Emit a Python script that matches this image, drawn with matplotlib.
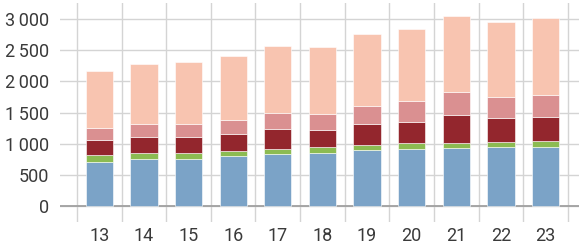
import numpy as np
import matplotlib.pyplot as plt
from matplotlib.ticker import FixedLocator

plt.rcParams['font.family'] = ['Roboto', 'DejaVu Sans']

years = ['13', '14', '15', '16', '17', '18', '19', '20', '21', '22', '23']
blue = [705, 747, 753, 796, 839, 855, 892, 919, 925, 952, 941]
green = [106, 97, 91, 86, 80, 86, 86, 86, 80, 80, 97]
darkred = [254, 269, 269, 269, 318, 279, 345, 350, 447, 377, 392]
pink = [182, 204, 210, 231, 263, 253, 285, 322, 376, 333, 355]
peach = [925, 963, 994, 1027, 1070, 1081, 1145, 1167, 1215, 1215, 1231]

series = [blue, green, darkred, pink, peach]
colors = ['#7ba3c7', '#8cbb52', '#93262d', '#da9091', '#f8c4b0']
yticks = [0, 500, 1000, 1500, 2000, 2500, 3000]

fig = plt.figure(figsize=(5.79, 2.46), dpi=100)
ax = fig.add_axes([60/579, 1 - 222/246, 1 - 60/579, 219/246])

x = np.arange(13, 24)
bottom = np.zeros(len(x))
for vals, c in zip(series, colors):
    ax.bar(x, vals, width=0.61, bottom=bottom, color=c, edgecolor='white',
           linewidth=0.4, zorder=3)
    bottom += np.array(vals)

ax.set_xlim(12.12, 23.75)
ax.set_ylim(-257, 3257)

ax.set_xticks(x)
ax.set_xticklabels(years)
ax.xaxis.set_minor_locator(FixedLocator(np.arange(12.5, 24, 1.0)))
ax.set_yticks(yticks)
ax.set_yticklabels([f"{v:,}".replace(",", "\u2009") for v in yticks])

ax.grid(axis='y', which='major', color='#d4d4d4', linewidth=1, zorder=0)
ax.grid(axis='x', which='minor', color='#d4d4d4', linewidth=1, zorder=0)
ax.axhline(0, color='#a0a0a0', linewidth=1.3, zorder=2)

ax.tick_params(axis='both', which='both', length=0, labelsize=13,
               labelcolor='#3a3a3a')
ax.tick_params(axis='y', pad=8)
ax.tick_params(axis='x', pad=3.5)
for s in ax.spines.values():
    s.set_visible(False)

fig.savefig('out.png', dpi=100)
